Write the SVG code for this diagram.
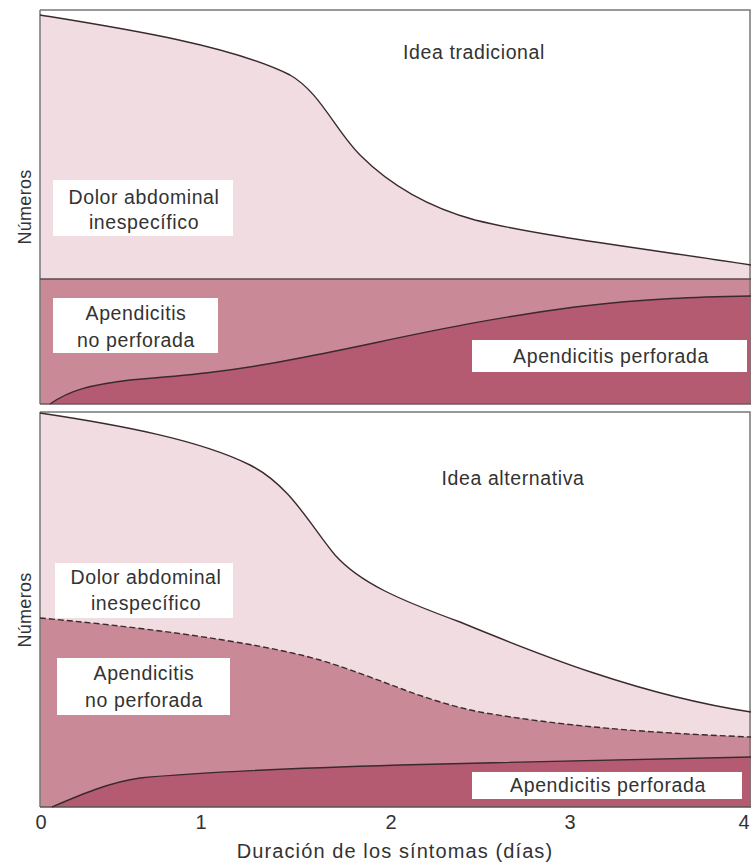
<svg xmlns="http://www.w3.org/2000/svg" width="751" height="867" viewBox="0 0 751 867">
<style>
.light{fill:#f1dde1}
.mid{fill:#c98996}
.dark{fill:#b45b72}
.curve{fill:none;stroke:#3a2a2e;stroke-width:1.4}
.dash{fill:none;stroke:#3a2a2e;stroke-width:1.4;stroke-dasharray:6 3}
.frame{fill:none;stroke:#777;stroke-width:1.5}
.box{fill:#ffffff}
text{font-family:"Liberation Sans",Arial,sans-serif;fill:#333;font-size:19.5px;letter-spacing:0.6px}
.c{text-anchor:middle}
.tick{font-size:20px;letter-spacing:0}
.xt{font-size:20px;letter-spacing:1.1px}
</style>
<rect width="751" height="867" fill="#ffffff"/>

<g id="panel-top">
  <path class="light" d="M40,15 C120,28 230,45 290,75 C320,92 335,130 360,155 C385,180 420,205 475,220 C540,236 640,248 751,265 L751,279 L40,279 Z"/>
  <rect class="mid" x="40" y="279" width="711" height="125"/>
  <path class="dark" d="M50,404 C70,390 90,385 130,380 C180,376 230,372 300,358 C380,343 460,322 575,307 C650,298 700,297 751,296 L751,404 Z"/>
  <path class="frame" d="M40,10 L750,10 L750,404 M40,10 L40,404"/>
  <line x1="40" y1="279" x2="751" y2="279" stroke="#5a4a4e" stroke-width="1.5"/>
  <line x1="40" y1="404" x2="751" y2="404" stroke="#6a5a5e" stroke-width="1.5"/>
</g>

<g id="panel-bottom">
  <path class="light" d="M40,413 C120,425 200,440 250,465 C290,485 310,525 335,555 C360,583 400,600 460,622 C540,655 640,695 751,712 L751,807 L40,807 Z"/>
  <path class="mid" d="M40,618 C120,625 250,640 320,660 C380,678 420,700 480,712 C560,726 650,733 751,737 L751,807 L40,807 Z"/>
  <path class="dark" d="M52,807 C80,795 110,782 140,778 C200,772 300,768 400,765 C520,762 650,759 751,757 L751,807 Z"/>
  <path class="frame" d="M40,412 L750,412 L750,807 M40,412 L40,807"/>
  <line x1="40" y1="807" x2="751" y2="807" stroke="#555" stroke-width="1.5"/>
</g>

<g id="connectors">
  <path class="curve" d="M40,15 C120,28 230,45 290,75 C320,92 335,130 360,155 C385,180 420,205 475,220 C540,236 640,248 751,265"/>
  <path class="curve" d="M50,404 C70,390 90,385 130,380 C180,376 230,372 300,358 C380,343 460,322 575,307 C650,298 700,297 751,296"/>
  <path class="curve" d="M40,413 C120,425 200,440 250,465 C290,485 310,525 335,555 C360,583 400,600 460,622 C540,655 640,695 751,712"/>
  <path class="dash" d="M40,618 C120,625 250,640 320,660 C380,678 420,700 480,712 C560,726 650,733 751,737"/>
  <path class="curve" d="M52,807 C80,795 110,782 140,778 C200,772 300,768 400,765 C520,762 650,759 751,757"/>
</g>

<g id="title-top"><text class="c" x="474" y="59">Idea tradicional</text></g>
<g id="title-bottom"><text class="c" x="513" y="485">Idea alternativa</text></g>

<g id="ylabel-top"><text class="c" transform="translate(31,207) rotate(-90)" style="font-size:18px;letter-spacing:0.3px">Números</text></g>
<g id="ylabel-bottom"><text class="c" transform="translate(31,610) rotate(-90)" style="font-size:18px;letter-spacing:0.3px">Números</text></g>

<g id="label-dolor-top">
  <rect class="box" x="53" y="180" width="180" height="56"/>
  <text class="c" x="144" y="204">Dolor abdominal</text>
  <text class="c" x="144" y="229">inespecífico</text>
</g>
<g id="label-noperf-top">
  <rect class="box" x="53" y="298" width="165" height="55"/>
  <text class="c" x="136" y="320">Apendicitis</text>
  <text class="c" x="136" y="347">no perforada</text>
</g>
<g id="label-perf-top">
  <rect class="box" x="472" y="340" width="275" height="32"/>
  <text class="c" x="611" y="363">Apendicitis perforada</text>
</g>

<g id="label-dolor-bottom">
  <rect class="box" x="55" y="563" width="178" height="55"/>
  <text class="c" x="146" y="584">Dolor abdominal</text>
  <text class="c" x="146" y="610">inespecífico</text>
</g>
<g id="label-noperf-bottom">
  <rect class="box" x="57" y="658" width="173" height="57"/>
  <text class="c" x="144" y="680">Apendicitis</text>
  <text class="c" x="144" y="707">no perforada</text>
</g>
<g id="label-perf-bottom">
  <rect class="box" x="472" y="772" width="270" height="27"/>
  <text class="c" x="608" y="792">Apendicitis perforada</text>
</g>

<g id="x-axis">
  <text class="c tick" x="41" y="829">0</text>
  <text class="c tick" x="201" y="829">1</text>
  <text class="c tick" x="391" y="829">2</text>
  <text class="c tick" x="570" y="829">3</text>
  <text class="c tick" x="744" y="829">4</text>
  <text class="c xt" x="395" y="858">Duración de los síntomas (días)</text>
</g>
</svg>
